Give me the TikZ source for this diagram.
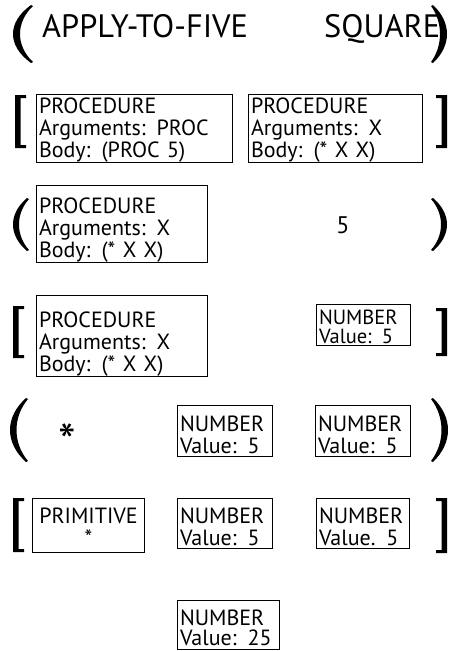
\documentclass[tikz,border=0pt]{standalone}
\usepackage{fontspec}
\setmainfont{PT Sans}
\newcommand\boxfont{\fontsize{22}{22}\selectfont}
\newcommand\titlefont{\fontsize{32.4}{32}\selectfont}
% strut that fixes the height of a first line
\newcommand\toprule[1]{\rule{0pt}{#1pt}}
\newcommand\botrule[1]{\rule[-#1pt]{0pt}{0pt}}
% left parenthesis: outer x, end x, top y, bottom y, thickness
\newcommand\LParenShape[5]{%
  \fill ({#2},{#3})
    .. controls ({(4*#1-#2)/3},{#3+0.3*(#4-#3)}) and ({(4*#1-#2)/3},{#4-0.3*(#4-#3)}) .. ({#2},{#4})
    -- ({#2+2},{#4-1})
    .. controls ({(4*(#1+#5)-#2-2)/3},{#4-0.3*(#4-#3)}) and ({(4*(#1+#5)-#2-2)/3},{#3+0.3*(#4-#3)}) .. ({#2+2},{#3+1})
    -- cycle;}
% right parenthesis: outer x, end x, top y, bottom y, thickness
\newcommand\RParenShape[5]{%
  \fill ({#2},{#3})
    .. controls ({(4*#1-#2)/3},{#3+0.3*(#4-#3)}) and ({(4*#1-#2)/3},{#4-0.3*(#4-#3)}) .. ({#2},{#4})
    -- ({#2-2},{#4-1})
    .. controls ({(4*(#1-#5)-#2+2)/3},{#4-0.3*(#4-#3)}) and ({(4*(#1-#5)-#2+2)/3},{#3+0.3*(#4-#3)}) .. ({#2-2},{#3+1})
    -- cycle;}
% square brackets: outer x, top y, bottom y
\newcommand\LBrackShape[3]{%
  \fill (#1,#2) -- ({#1+11},#2) -- ({#1+11},{#2+3}) -- ({#1+5.5},{#2+3})
    -- ({#1+5.5},{#3-3}) -- ({#1+11},{#3-3}) -- ({#1+11},#3) -- (#1,#3) -- cycle;}
\newcommand\RBrackShape[3]{%
  \fill (#1,#2) -- ({#1-11},#2) -- ({#1-11},{#2+3}) -- ({#1-5.5},{#2+3})
    -- ({#1-5.5},{#3-3}) -- ({#1-11},{#3-3}) -- ({#1-11},#3) -- (#1,#3) -- cycle;}
\begin{document}
\begin{tikzpicture}[x=1pt,y=-1pt,
  objbox/.style={draw, line width=1pt, inner xsep=2.5pt, inner ysep=0pt,
    anchor=north west, align=left, font=\boxfont},
  primbox/.style={draw, line width=1pt, inner xsep=2.5pt, inner ysep=0pt,
    anchor=north west, align=center, font=\boxfont},
  word/.style={inner sep=0pt, anchor=base west, font=\titlefont}]
\useasboundingbox (0,0) rectangle (453,651);

% (APPLY-TO-FIVE SQUARE)
\LParenShape{13}{31}{5}{63}{7}
\RParenShape{447}{433}{5}{63}{7}
\node[word] (apply) at (42,37) {APPLY-TO-FIVE};
\node[word] (square) at (324,37) {SQUARE};

% [procedure procedure]
\LBrackShape{15}{95}{148}
\RBrackShape{447}{95}{148}
\node[objbox, text width=191pt] (proc1) at (36,94)
  {\toprule{19}PROCEDURE\\Arguments: PROC\\Body: (PROC 5)};
\node[objbox, text width=169pt] (proc2) at (248,94)
  {\toprule{19}PROCEDURE\\Arguments: X\\Body: (* X X)};

% (procedure 5)
\LParenShape{13}{27}{198}{251}{6}
\RParenShape{447}{433}{198}{251}{6}
\node[objbox, text width=166pt] (proc3) at (36,185)
  {\toprule{28}PROCEDURE\\Arguments: X\\Body: (* X X)};
\node[word, anchor=base, font=\fontsize{24}{24}\selectfont] (five) at (343,233) {5};

% [procedure number]
\LBrackShape{13}{306}{358}
\RBrackShape{447}{308}{356}
\node[objbox, text width=89pt, font=\fontsize{20.5}{19}\selectfont] (num1) at (316,304)
  {\toprule{20}NUMBER\\Value: 5\botrule{2}};
\node[objbox, text width=166pt] (proc4) at (36,295)
  {\toprule{32}PROCEDURE\\Arguments: X\\Body: (* X X)};

% (* number number)
\LParenShape{10}{26}{398}{462}{6.5}
\RParenShape{448}{433}{398}{462}{6.5}
\node[word, anchor=base, font=\fontsize{50}{50}\selectfont] (star) at (67,459) {*};
\node[objbox, text width=90pt] (num2) at (177,405)
  {\toprule{26}NUMBER\\Value: 5\botrule{3}};
\node[objbox, text width=90pt] (num3) at (315,405)
  {\toprule{26}NUMBER\\Value: 5\botrule{3}};

% [primitive number number]
\LBrackShape{13}{498}{552}
\RBrackShape{447}{498}{553}
\node[primbox, text width=107pt] (prim) at (32,498)
  {\toprule{25}PRIMITIVE\\{*}\botrule{7}};
\node[objbox, text width=90pt] (num4) at (177,498)
  {\toprule{25}NUMBER\\Value: 5\botrule{3}};
\node[objbox, text width=88pt] (num5) at (316,498)
  {\toprule{25}NUMBER\\Value. 5\botrule{3}};

% result
\node[objbox, text width=97pt, font=\fontsize{22}{20}\selectfont] (num6) at (177,600)
  {\toprule{25}NUMBER\\Value: 25\botrule{4}};
\end{tikzpicture}
\end{document}
